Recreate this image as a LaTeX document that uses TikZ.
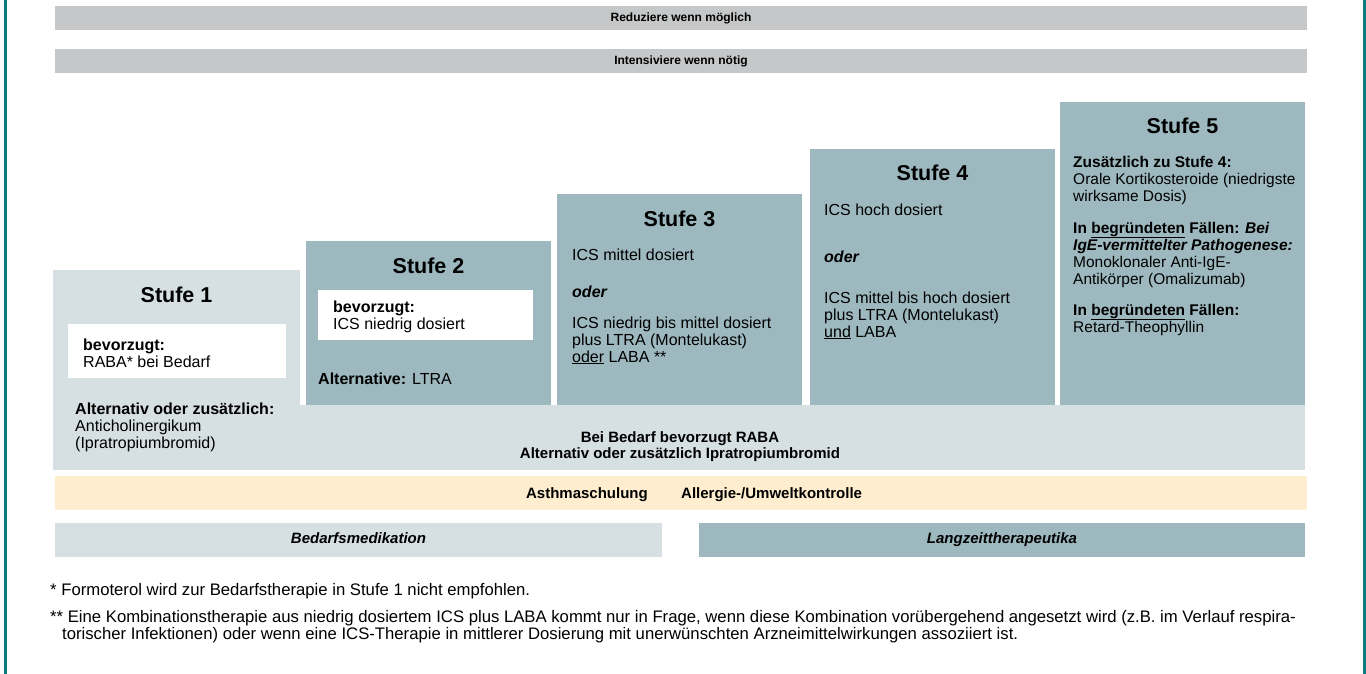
\documentclass[tikz,border=0pt]{standalone}
\usepackage{fontspec}
\setmainfont{Liberation Sans}
\usepackage{tikz}
\usetikzlibrary{calc,positioning}
\definecolor{hell}{HTML}{D6DFE1}
\definecolor{dunkel}{HTML}{9DB9BF}
\definecolor{grau}{HTML}{C6C7C8}
\definecolor{gelb}{HTML}{FEEDCF}
\definecolor{rahmen}{HTML}{0E7A80}

\begin{document}
\begin{tikzpicture}[x=1pt,y=-1pt,
txt/.style={inner sep=0pt, anchor=base west, align=left, font=\fontsize{16}{17}\selectfont},
fett/.style={inner sep=0pt, font=\bfseries\fontsize{15}{16}\selectfont},
titel/.style={inner sep=0pt, anchor=base, font=\bfseries\fontsize{21.5}{24}\selectfont},
fuss/.style={inner sep=0pt, anchor=base west, font=\fontsize{16.7}{17}\selectfont},
balken/.style={text height=11pt, text depth=3.5pt}]
\tikzstyle{box}=[draw=none, inner sep=0pt, outer sep=0pt, anchor=north west]%, minimum size=0pt]
\useasboundingbox (0,0) rectangle (1366,674);
\fill[white] (0,0) rectangle (1366,674);
\draw[rahmen, line width=3] (5.5,0) -- (5.5,674);
\draw[rahmen, line width=3] (1364.5,0) -- (1364.5,674);

\node[box, balken, fill=grau, minimum width=1252, minimum height=24, font=\bfseries\fontsize{12}{14}\selectfont] (reduz) at (55,6) {Reduziere wenn möglich};
\node[box, balken, fill=grau, minimum width=1252, minimum height=24, font=\bfseries\fontsize{12}{14}\selectfont] (intens) at (55,49) {Intensiviere wenn nötig};

\node[box, fill=hell, minimum width=247, minimum height=200] (s1) at (53,270) {};
\node[box, fill=hell, minimum width=1005, minimum height=65] (band) at (300,405) {};
\node[titel] (t1) at ($(s1.north)+(0,32)$) {Stufe 1};
\foreach \n/\x/\y in {2/306/241,3/557/194,4/810/149,5/1060/102}{
\node[box, fill=dunkel, minimum width=245, minimum height=405-\y] (s\n) at (\x,\y) {};
\node[titel] (t\n) at ($(s\n.north)+(0,32)$) {Stufe \n};
}
\node[box, fill=white, minimum width=218, minimum height=54] (w1) at (68,324) {};
\node[box, fill=white, minimum width=215, minimum height=50] (w2) at (318,290) {};

% base = letzte Zeile
\node[txt] (s1a) at (83,367) {\textbf{bevorzugt:}\\RABA* bei Bedarf};
\node[txt] (s1b) at (75,448) {\textbf{Alternativ oder zusätzlich:}\\Anticholinergikum\\(Ipratropiumbromid)};
\node[txt] (s2a) at (333,329) {\textbf{bevorzugt:}\\ICS niedrig dosiert};
\node[txt] (s2b) at (318,384) {\textbf{Alternative:} LTRA};
\node[txt] (s3a) at (572,260) {ICS mittel dosiert};
\node[txt] (s3b) at (572,297) {\textbf{\textit{oder}}};
\node[txt] (s3c) at (572,362) {ICS niedrig bis mittel dosiert\\plus LTRA (Montelukast)\\\underline{oder} LABA **};
\node[txt] (s4a) at (824,215) {ICS hoch dosiert};
\node[txt] (s4b) at (824,262) {\textbf{\textit{oder}}};
\node[txt] (s4c) at (824,337) {ICS mittel bis hoch dosiert\\plus LTRA (Montelukast)\\\underline{und} LABA};
\node[txt, font=\fontsize{15.5}{17}\selectfont] (s5a) at (1073,201) {\textbf{Zusätzlich zu Stufe 4:}\\Orale Kortikosteroide (niedrigste\\wirksame Dosis)};
\node[txt, font=\fontsize{15.5}{17}\selectfont] (s5b) at (1073,284) {\textbf{In \underline{begründeten} Fällen: \textit{Bei}}\\\textbf{\textit{IgE-vermittelter Pathogenese:}}\\Monoklonaler Anti-IgE-\\Antikörper (Omalizumab)};
\node[txt, font=\fontsize{15.5}{17}\selectfont] (s5c) at (1073,332) {\textbf{In \underline{begründeten} Fällen:}\\Retard-Theophyllin};

\node[fett, anchor=base, align=center] (bandT) at (680,458) {Bei Bedarf bevorzugt RABA\\Alternativ oder zusätzlich Ipratropiumbromid};

\node[box, fill=gelb, minimum width=1252, minimum height=34] (gelb) at (55,476) {};
\node[fett, anchor=base east] (schulung) at (648,498) {Asthmaschulung};
\node[fett, anchor=base west] (umwelt) at (681,498) {Allergie-/Umweltkontrolle};

\node[box, balken, fill=hell, minimum width=607, minimum height=34, font=\bfseries\itshape\fontsize{15}{16}\selectfont] (bedarf) at (55,523) {Bedarfsmedikation};
\node[box, balken, fill=dunkel, minimum width=606, minimum height=34, font=\bfseries\itshape\fontsize{15}{16}\selectfont] (langzeit) at (699,523) {Langzeittherapeutika};

\node[fuss] (fn1) at (50,595) {* Formoterol wird zur Bedarfstherapie in Stufe 1 nicht empfohlen.};
\node[fuss] (fn2) at (50,622) {** Eine Kombinationstherapie aus niedrig dosiertem ICS plus LABA kommt nur in Frage, wenn diese Kombination vorübergehend angesetzt wird (z.B. im Verlauf respira-};
\node[fuss] (fn3) at (62,639) {torischer Infektionen) oder wenn eine ICS-Therapie in mittlerer Dosierung mit unerwünschten Arzneimittelwirkungen assoziiert ist.};
\end{tikzpicture}
\end{document}
